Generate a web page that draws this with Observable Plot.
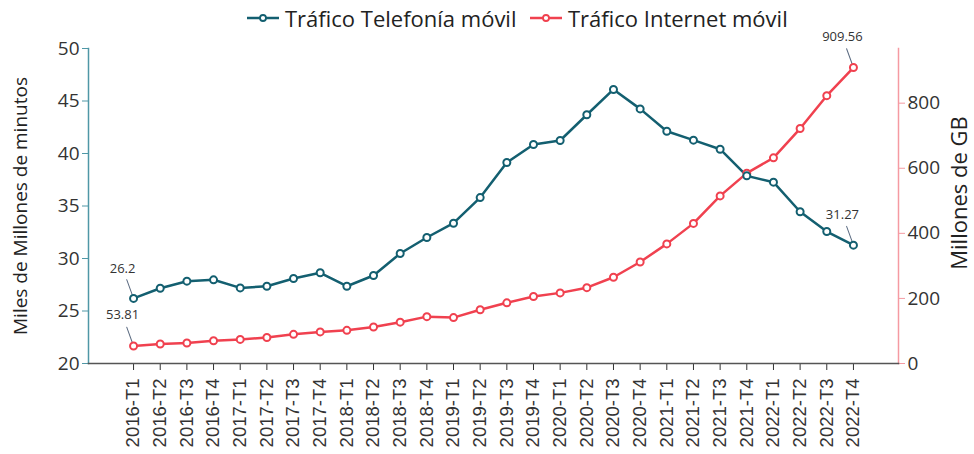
<!DOCTYPE html>
<html><head><meta charset="utf-8">
<script src="https://cdn.jsdelivr.net/npm/d3@7"></script>
<script src="https://cdn.jsdelivr.net/npm/@observablehq/plot@0.6"></script>
<style>
body{margin:0;background:#fff;font-family:"Open Sans",sans-serif;}
#legend{position:relative;height:38px;}
.item{position:absolute;top:3px;display:flex;align-items:center;font-size:22px;color:#222;white-space:nowrap;}
.item svg{margin-right:6px;}
</style></head><body>
<div id="legend"></div>
<div id="chart"></div>
<script>
const quarters = ["2016-T1","2016-T2","2016-T3","2016-T4","2017-T1","2017-T2","2017-T3","2017-T4","2018-T1","2018-T2","2018-T3","2018-T4","2019-T1","2019-T2","2019-T3","2019-T4","2020-T1","2020-T2","2020-T3","2020-T4","2021-T1","2021-T2","2021-T3","2021-T4","2022-T1","2022-T2","2022-T3","2022-T4"];
const telefonia = [26.2,27.17,27.84,27.97,27.2,27.36,28.1,28.64,27.36,28.38,30.48,32.0,33.36,35.8,39.14,40.86,41.24,43.69,46.1,44.25,42.12,41.27,40.41,37.87,37.27,34.45,32.57,31.27];
const internet = [53.81,59.9,63,70,74,80,89.6,97,102,112,127,144,141,165,186.5,206,217,233,265,312,367.6,430.6,515,585,632,722,823,909.56];
const leftTicks = [20,25,30,35,40,45,50];
const rightTicks = [0,200,400,600,800];
const seriesNames = ["Tráfico Telefonía móvil","Tráfico Internet móvil"];
const leftTitle = "Miles de Millones de minutos";
const rightTitle = "Millones de GB";

const TEAL = "#135f70", RED = "#f0414f", TEAL_AX = "#4f97a6", RED_AX = "#f59aa2", LEAD = "#5a6a80";
const RMAX = 968;
const toLeft = v => 20 + v * 30 / RMAX;
const fromLeft = d => Math.round((d - 20) * RMAX / 30);

const data = quarters.map((q, i) => ({q, tel: telefonia[i], net: toLeft(internet[i]), netRaw: internet[i]}));
const ends = [data[0], data[data.length - 1]];

// legend
const legend = document.getElementById("legend");
[[seriesNames[0], TEAL, 247], [seriesNames[1], RED, 530]].forEach(([name, c, left]) => {
  const d = document.createElement("div");
  d.className = "item"; d.style.left = left + "px";
  d.innerHTML = `<svg width="32" height="14"><line x1="0" x2="32" y1="7" y2="7" stroke="${c}" stroke-width="2.5"/><circle cx="16" cy="7" r="3" fill="white" stroke="${c}" stroke-width="1.8"/></svg><span>${name}</span>`;
  legend.appendChild(d);
});

const leader = {draw(ctx, l) { ctx.moveTo(0, 0); ctx.lineTo(0, -l); }};

const chart = Plot.plot({
  width: 974, height: 416,
  marginLeft: 88, marginRight: 76, marginTop: 10, marginBottom: 91,
  style: {fontFamily: "Open Sans", color: "#333", background: "white", overflow: "visible"},
  x: {type: "point", domain: quarters, padding: 1.69, round: false},
  y: {domain: [20, 50]},
  marks: [
    Plot.axisY(leftTicks, {anchor: "left", tickSize: 6, tickPadding: 3, stroke: TEAL_AX, fill: "#333", fontSize: 19, label: null}),
    Plot.axisY(rightTicks.map(toLeft), {anchor: "right", tickSize: 6, tickPadding: 3, tickFormat: fromLeft, stroke: RED_AX, fill: "#333", fontSize: 19, label: null}),
    Plot.axisX({tickRotate: -90, tickSize: 7, tickPadding: 8, fontSize: 18.5, fontFamily: "Liberation Sans", stroke: "#333", fill: "#333", label: null}),
    Plot.frame({anchor: "left", stroke: TEAL_AX, strokeWidth: 1.5}),
    Plot.frame({anchor: "right", stroke: RED_AX, strokeWidth: 1.5}),
    Plot.frame({anchor: "bottom", stroke: "#555", strokeWidth: 1.5}),
    Plot.text([leftTitle], {frameAnchor: "left", textAnchor: "middle", rotate: -90, dx: -68, fontSize: 19, fill: "#222"}),
    Plot.text([rightTitle], {frameAnchor: "right", textAnchor: "middle", rotate: -90, dx: 61, dy: -13, fontSize: 22, fill: "#222"}),
    Plot.line(data, {x: "q", y: "net", stroke: RED, strokeWidth: 2.5}),
    Plot.line(data, {x: "q", y: "tel", stroke: TEAL, strokeWidth: 2.5}),
    Plot.vector(ends, {x: "q", y: "tel", length: 20, rotate: -20, anchor: "start", shape: leader, stroke: LEAD, strokeWidth: 1}),
    Plot.vector(ends, {x: "q", y: "net", length: 20, rotate: -20, anchor: "start", shape: leader, stroke: LEAD, strokeWidth: 1}),
    Plot.dot(data, {x: "q", y: "net", r: 3.5, fill: "white", stroke: RED, strokeWidth: 2}),
    Plot.dot(data, {x: "q", y: "tel", r: 3.5, fill: "white", stroke: TEAL, strokeWidth: 2}),
    Plot.text(ends, {x: "q", y: "tel", text: d => String(d.tel), dx: -11, dy: -30, fontSize: 13, fill: "#333"}),
    Plot.text(ends, {x: "q", y: "net", text: d => String(d.netRaw), dx: -11, dy: -31, fontSize: 13, fill: "#333"})
  ]
});
document.getElementById("chart").appendChild(chart);
</script>
</body></html>
